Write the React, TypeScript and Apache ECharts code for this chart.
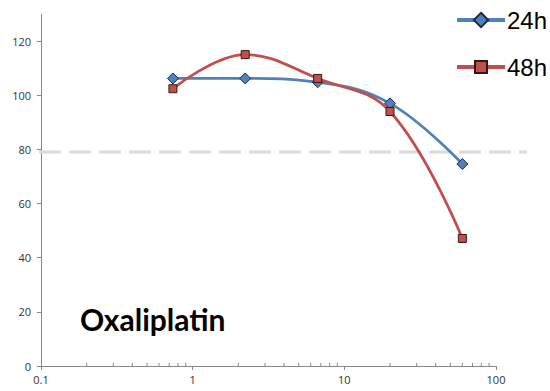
import React, { useEffect, useRef } from "react";
import * as echarts from "echarts";

const concentrations = [0.741, 2.22, 6.67, 20, 60];
const values24h = [106.2, 106.2, 104.8, 97.0, 74.6];
const values48h = [102.4, 115.0, 106.2, 94.0, 47.1];
const seriesNames = ["24h", "48h"];
const yTickValues = [0, 20, 40, 60, 80, 100, 120];
const xMinorTicks = [0.2, 0.3, 0.4, 0.5, 0.6, 0.7, 0.8, 0.9, 2, 3, 4, 5, 6, 7, 8, 9, 20, 30, 40, 50, 60, 70, 80, 90];
const thresholdValue = 79;
const chartTitle = "Oxaliplatin";

export default function App() {
  const ref = useRef<HTMLDivElement>(null);
  useEffect(() => {
    if (!ref.current) return;
    const chart = echarts.init(ref.current, null, { renderer: "svg" });
    const axisColor = "#868686";
    const labelStyle = { color: "#333", fontSize: 11, fontFamily: "Open Sans" };
    chart.setOption({
      animation: false,
      backgroundColor: "#fff",
      grid: { left: 41, right: 54, top: 14, bottom: 25, containLabel: false },
      title: {
        text: chartTitle,
        left: 80,
        top: 304,
        padding: 0,
        textStyle: { fontFamily: "Lato", fontWeight: "bold", fontSize: 30, color: "#000" },
      },
      legend: [
        {
          data: [seriesNames[0]],
          left: 455,
          top: 8,
          padding: 0,
          itemWidth: 48,
          itemHeight: 18,
          lineStyle: { width: 4 },
          textStyle: { fontFamily: "Liberation Sans", fontSize: 24, color: "#000", padding: [0, 0, 0, -3] },
        },
        {
          data: [seriesNames[1]],
          left: 455,
          top: 55,
          padding: 0,
          itemWidth: 48,
          itemHeight: 15,
          lineStyle: { width: 4 },
          textStyle: { fontFamily: "Liberation Sans", fontSize: 24, color: "#000", padding: [0, 0, 0, -3] },
        },
      ],
      xAxis: {
        type: "log",
        logBase: 10,
        min: 0.1,
        max: 100,
        axisLine: { lineStyle: { color: axisColor, width: 1 } },
        axisTick: { show: true, length: 4, lineStyle: { color: axisColor } },
        axisLabel: { ...labelStyle, margin: 8, formatter: (v: number) => String(v) },
        splitLine: { show: false },
      },
      yAxis: {
        type: "value",
        min: 0,
        max: 130,
        interval: 20,
        axisLine: { show: true, lineStyle: { color: axisColor, width: 1 } },
        axisTick: { show: true, length: 4, lineStyle: { color: axisColor }, customValues: yTickValues },
        axisLabel: { ...labelStyle, margin: 10, customValues: yTickValues },
        splitLine: { show: false },
      },
      series: [
        {
          name: "minorTicks",
          type: "custom",
          silent: true,
          clip: false,
          data: xMinorTicks.map((v) => [v, 0]),
          encode: { x: 0, y: 1 },
          renderItem: (_params: any, api: any) => {
            const p = api.coord([api.value(0), 0]);
            return {
              type: "line",
              shape: { x1: p[0], y1: p[1], x2: p[0], y2: p[1] - 3 },
              style: { stroke: axisColor, lineWidth: 1 },
            };
          },
        },
        {
          name: "threshold",
          type: "custom",
          silent: true,
          clip: false,
          z: 1,
          data: [[concentrations[0], thresholdValue]],
          encode: { x: 0, y: 1 },
          renderItem: (params: any, api: any) => {
            const cs = params.coordSys;
            const p = api.coord([api.value(0), api.value(1)]);
            return {
              type: "line",
              shape: { x1: cs.x - 2, y1: p[1], x2: cs.x + cs.width + 31, y2: p[1] },
              style: { stroke: "#D9D9D9", lineWidth: 3, lineDash: [22, 8] },
            };
          },
        },
        {
          name: seriesNames[0],
          type: "line",
          z: 3,
          smooth: 0.4,
          data: concentrations.map((c, i) => [c, values24h[i]]),
          symbol: "diamond",
          symbolSize: 11,
          lineStyle: { color: "#4F81BD", width: 2.75 },
          itemStyle: { color: "#4F81BD", borderColor: "#1F2D3F", borderWidth: 1 },
        },
        {
          name: seriesNames[1],
          type: "line",
          z: 4,
          smooth: 0.4,
          data: concentrations.map((c, i) => [c, values48h[i]]),
          symbol: "rect",
          symbolSize: 8,
          lineStyle: { color: "#C0504D", width: 2.75 },
          itemStyle: { color: "#C0504D", borderColor: "#3A1515", borderWidth: 1 },
        },
      ],
    });
    return () => chart.dispose();
  }, []);
  return <div ref={ref} style={{ width: 550, height: 391, position: "absolute", left: 0, top: 0 }} />;
}
